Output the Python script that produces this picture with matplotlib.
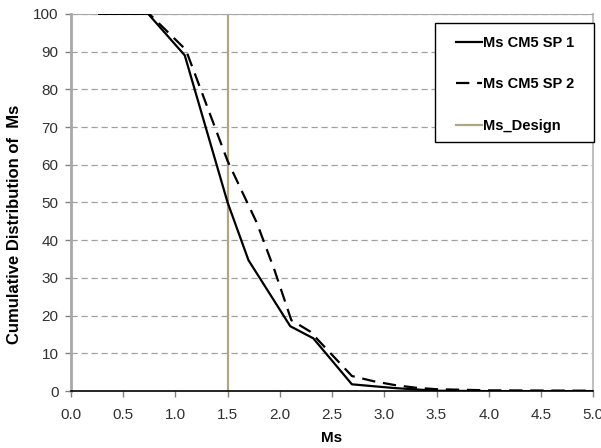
import matplotlib
matplotlib.use("Agg")
import matplotlib.pyplot as plt
from matplotlib.patches import Rectangle

plt.rcParams['font.family'] = ['Liberation Sans', 'DejaVu Sans']

# Data
ms_sp1 = [0.27, 0.74, 1.09, 1.5, 1.7, 2.1, 2.32, 2.69, 3.1, 3.5, 4.0, 5.0]
cdf_sp1 = [100, 100, 89, 50, 34.7, 17.2, 14, 1.8, 0.8, 0.1, 0.0, 0.0]

ms_sp2 = [0.27, 0.75, 1.1, 1.5, 1.78, 1.95, 2.11, 2.29, 2.69, 2.9, 3.1, 3.3, 3.5, 4.0, 5.0]
cdf_sp2 = [100, 100, 90.5, 61, 44.6, 32, 18.8, 15.8, 4.0, 2.6, 1.6, 0.9, 0.5, 0.2, 0.1]

ms_design = 1.5

x_ticks = [0.0, 0.5, 1.0, 1.5, 2.0, 2.5, 3.0, 3.5, 4.0, 4.5, 5.0]
y_ticks = [0, 10, 20, 30, 40, 50, 60, 70, 80, 90, 100]

W, H = 601, 448
fig = plt.figure(figsize=(W / 100, H / 100), dpi=100)
ax = fig.add_axes([0.118, 0.127, 0.869, 0.842])

for y in y_ticks[1:]:
    ax.axhline(y, color='#a0a0a0', lw=0.9, ls=(0, (5, 3)), zorder=1)

ax.axvline(ms_design, color='#b2a680', lw=1.6, zorder=2, label='Ms_Design')
ax.plot(ms_sp1, cdf_sp1, color='black', lw=1.6, zorder=3, label='Ms CM5 SP 1')
ax.plot(ms_sp2, cdf_sp2, color='black', lw=1.6, ls=(0, (6, 3.5)), zorder=3, label='Ms CM5 SP 2')

ax.set_xlim(0, 5)
ax.set_ylim(0, 100)
ax.set_xticks(x_ticks)
ax.set_xticklabels([f"{v:.1f}" for v in x_ticks])
ax.set_yticks(y_ticks)
ax.tick_params(axis='both', labelsize=11, length=4, width=1, color='#808080', colors='#303030')
ax.tick_params(axis='x', pad=8)
ax.tick_params(axis='y', pad=5)

ax.spines['left'].set_color('#a8a8a8')
ax.spines['left'].set_linewidth(2)
ax.spines['top'].set_color('#a8a8a8')
ax.spines['right'].set_color('#c0c0c0')
ax.spines['right'].set_linewidth(1.5)
ax.spines['bottom'].set_color('black')
ax.spines['bottom'].set_linewidth(1.2)

ax.set_xlabel('Ms', fontsize=11, fontweight='bold', labelpad=7)
ax.set_ylabel('Cumulative Distribution of  Ms', fontsize=12, fontweight='bold')
ax.yaxis.set_label_coords(-0.094, 0.443)

# legend frame drawn manually to match the box proportions
fig.patches.append(Rectangle((435 / W, 1 - 142 / H), (594 - 435) / W, (142 - 23) / H,
                             transform=fig.transFigure, facecolor='white',
                             edgecolor='black', lw=1.0, zorder=4))

handles, labels = ax.get_legend_handles_labels()
order = [1, 2, 0]
leg = fig.legend([handles[i] for i in order], [labels[i] for i in order],
                 loc='upper left', bbox_to_anchor=(456 / W, 1 - 36 / H),
                 prop={'weight': 'bold', 'size': 10.5},
                 frameon=False,
                 handlelength=1.75, handletextpad=0.1, labelspacing=1.88,
                 borderpad=0, borderaxespad=0)
leg.set_zorder(5)

fig.savefig('out.png', dpi=100)
